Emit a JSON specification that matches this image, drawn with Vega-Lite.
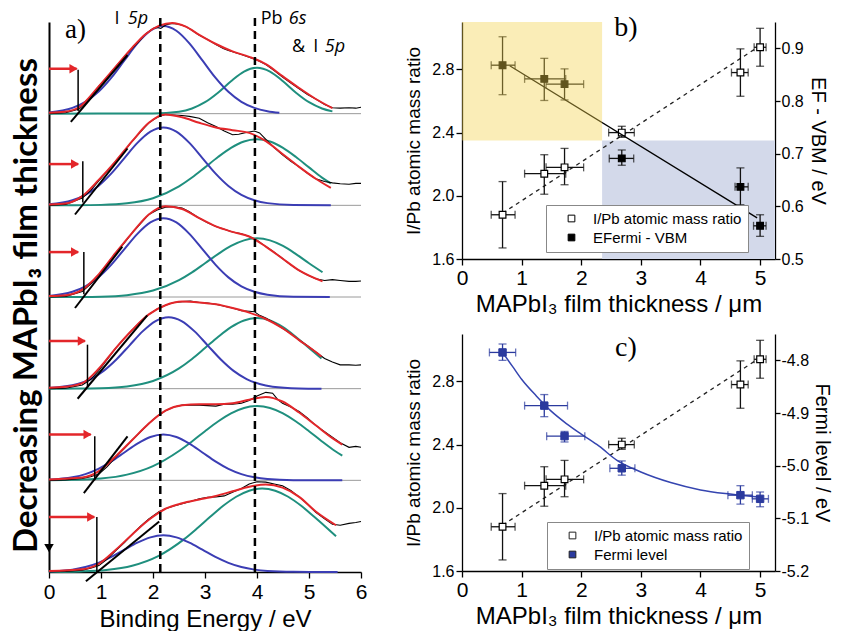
{
"$schema":"https://vega.github.io/schema/vega-lite/v6.json",
"background":"white",
"padding":{"left":9,"top":10,"right":0,"bottom":0},
"config":{"view":{"stroke":null},"axis":{"grid":false,"labelFlush":false,"labelBound":false,"labelColor":"black","titleColor":"black","domainColor":"black","tickColor":"black","labelFont":"Liberation Sans","titleFont":"Liberation Sans","titleFontWeight":"normal","domainWidth":1.3,"tickWidth":1.3,"tickSize":5}},
"datasets":{
"ratio":[
{"x":0.68,"xlo":0.49,"xhi":0.89,"y":1.88,"ylo":1.67,"yhi":2.09,"series":"I/Pb atomic mass ratio"},
{"x":1.38,"xlo":1.05,"xhi":1.74,"y":2.14,"ylo":2.01,"yhi":2.26,"series":"I/Pb atomic mass ratio"},
{"x":1.72,"xlo":1.41,"xhi":2.04,"y":2.18,"ylo":2.07,"yhi":2.30,"series":"I/Pb atomic mass ratio"},
{"x":2.68,"xlo":2.46,"xhi":2.89,"y":2.40,"ylo":2.37,"yhi":2.44,"series":"I/Pb atomic mass ratio"},
{"x":4.67,"xlo":4.52,"xhi":4.80,"y":2.78,"ylo":2.63,"yhi":2.93,"series":"I/Pb atomic mass ratio"},
{"x":5.00,"xlo":4.90,"xhi":5.10,"y":2.94,"ylo":2.82,"yhi":3.06,"series":"I/Pb atomic mass ratio"}],
"ef":[
{"x":0.68,"xlo":0.49,"xhi":0.89,"y":0.868,"ylo":0.812,"yhi":0.922,"series":"EFermi - VBM"},
{"x":1.38,"xlo":1.05,"xhi":1.74,"y":0.842,"ylo":0.801,"yhi":0.881,"series":"EFermi - VBM"},
{"x":1.72,"xlo":1.41,"xhi":2.04,"y":0.832,"ylo":0.802,"yhi":0.861,"series":"EFermi - VBM"},
{"x":2.68,"xlo":2.47,"xhi":2.88,"y":0.691,"ylo":0.678,"yhi":0.707,"series":"EFermi - VBM"},
{"x":4.67,"xlo":4.58,"xhi":4.80,"y":0.637,"ylo":0.603,"yhi":0.673,"series":"EFermi - VBM"},
{"x":5.00,"xlo":4.89,"xhi":5.10,"y":0.563,"ylo":0.543,"yhi":0.584,"series":"EFermi - VBM"}],
"fermi":[
{"x":0.68,"xlo":0.46,"xhi":0.90,"y":-4.785,"ylo":-4.800,"yhi":-4.769,"series":"Fermi level"},
{"x":1.38,"xlo":1.05,"xhi":1.77,"y":-4.886,"ylo":-4.907,"yhi":-4.865,"series":"Fermi level"},
{"x":1.72,"xlo":1.42,"xhi":2.06,"y":-4.944,"ylo":-4.955,"yhi":-4.935,"series":"Fermi level"},
{"x":2.68,"xlo":2.48,"xhi":2.90,"y":-5.005,"ylo":-5.018,"yhi":-4.991,"series":"Fermi level"},
{"x":4.67,"xlo":4.46,"xhi":4.87,"y":-5.056,"ylo":-5.073,"yhi":-5.038,"series":"Fermi level"},
{"x":5.00,"xlo":4.87,"xhi":5.14,"y":-5.063,"ylo":-5.078,"yhi":-5.050,"series":"Fermi level"}],
"d":[
{"s":1,"E":0,"I":5.0},{"s":1,"E":0.32,"I":5.01},{"s":1,"E":0.58,"I":5.05},{"s":1,"E":0.75,"I":5.14},{"s":1,"E":0.96,"I":5.30},{"s":1,"E":1.12,"I":5.40},{"s":1,"E":1.28,"I":5.51},{"s":1,"E":1.45,"I":5.62},{"s":1,"E":1.6,"I":5.71},{"s":1,"E":1.75,"I":5.80},{"s":1,"E":1.86,"I":5.87},{"s":1,"E":2.0,"I":5.93},{"s":1,"E":2.08,"I":5.94},{"s":1,"E":2.15,"I":5.93},{"s":1,"E":2.25,"I":5.97},{"s":1,"E":2.37,"I":5.985},{"s":1,"E":2.5,"I":5.975},{"s":1,"E":2.63,"I":5.95},{"s":1,"E":2.75,"I":5.91},{"s":1,"E":2.89,"I":5.855},{"s":1,"E":3.05,"I":5.81},{"s":1,"E":3.21,"I":5.755},{"s":1,"E":3.35,"I":5.71},{"s":1,"E":3.45,"I":5.69},{"s":1,"E":3.53,"I":5.675},{"s":1,"E":3.7,"I":5.645},{"s":1,"E":3.85,"I":5.615},{"s":1,"E":4.0,"I":5.585},{"s":1,"E":4.17,"I":5.535},{"s":1,"E":4.33,"I":5.47},{"s":1,"E":4.49,"I":5.40},{"s":1,"E":4.65,"I":5.335},{"s":1,"E":4.81,"I":5.27},{"s":1,"E":4.97,"I":5.21},{"s":1,"E":5.13,"I":5.16},{"s":1,"E":5.3,"I":5.10},{"s":1,"E":5.45,"I":5.065},{"s":1,"E":5.6,"I":5.06},{"s":1,"E":5.77,"I":5.065},{"s":1,"E":5.9,"I":5.06},{"s":1,"E":6.0,"I":5.07},
{"s":2,"E":0,"I":4.0},{"s":2,"E":0.32,"I":4.01},{"s":2,"E":0.64,"I":4.08},{"s":2,"E":0.8,"I":4.16},{"s":2,"E":0.96,"I":4.27},{"s":2,"E":1.12,"I":4.37},{"s":2,"E":1.28,"I":4.48},{"s":2,"E":1.45,"I":4.59},{"s":2,"E":1.6,"I":4.70},{"s":2,"E":1.76,"I":4.80},{"s":2,"E":1.92,"I":4.90},{"s":2,"E":2.05,"I":4.95},{"s":2,"E":2.12,"I":4.97},{"s":2,"E":2.24,"I":4.99},{"s":2,"E":2.4,"I":4.985},{"s":2,"E":2.56,"I":4.98},{"s":2,"E":2.7,"I":4.97},{"s":2,"E":2.89,"I":4.95},{"s":2,"E":3.05,"I":4.90},{"s":2,"E":3.21,"I":4.86},{"s":2,"E":3.37,"I":4.81},{"s":2,"E":3.53,"I":4.77},{"s":2,"E":3.65,"I":4.775},{"s":2,"E":3.75,"I":4.79},{"s":2,"E":3.85,"I":4.80},{"s":2,"E":3.95,"I":4.81},{"s":2,"E":4.05,"I":4.79},{"s":2,"E":4.17,"I":4.72},{"s":2,"E":4.33,"I":4.63},{"s":2,"E":4.49,"I":4.55},{"s":2,"E":4.65,"I":4.48},{"s":2,"E":4.81,"I":4.42},{"s":2,"E":4.97,"I":4.35},{"s":2,"E":5.13,"I":4.29},{"s":2,"E":5.3,"I":4.26},{"s":2,"E":5.45,"I":4.245},{"s":2,"E":5.6,"I":4.235},{"s":2,"E":5.77,"I":4.23},{"s":2,"E":5.9,"I":4.24},{"s":2,"E":6.0,"I":4.24},
{"s":3,"E":0,"I":3.0},{"s":3,"E":0.32,"I":3.005},{"s":3,"E":0.64,"I":3.06},{"s":3,"E":0.8,"I":3.14},{"s":3,"E":0.96,"I":3.24},{"s":3,"E":1.12,"I":3.36},{"s":3,"E":1.28,"I":3.48},{"s":3,"E":1.45,"I":3.59},{"s":3,"E":1.6,"I":3.70},{"s":3,"E":1.76,"I":3.80},{"s":3,"E":1.92,"I":3.90},{"s":3,"E":2.08,"I":3.95},{"s":3,"E":2.24,"I":3.98},{"s":3,"E":2.4,"I":3.985},{"s":3,"E":2.56,"I":3.97},{"s":3,"E":2.7,"I":3.93},{"s":3,"E":2.89,"I":3.86},{"s":3,"E":3.05,"I":3.81},{"s":3,"E":3.21,"I":3.77},{"s":3,"E":3.37,"I":3.74},{"s":3,"E":3.53,"I":3.71},{"s":3,"E":3.7,"I":3.69},{"s":3,"E":3.85,"I":3.66},{"s":3,"E":4.0,"I":3.62},{"s":3,"E":4.17,"I":3.55},{"s":3,"E":4.33,"I":3.49},{"s":3,"E":4.49,"I":3.42},{"s":3,"E":4.65,"I":3.35},{"s":3,"E":4.81,"I":3.29},{"s":3,"E":4.97,"I":3.24},{"s":3,"E":5.13,"I":3.20},{"s":3,"E":5.3,"I":3.18},{"s":3,"E":5.45,"I":3.19},{"s":3,"E":5.6,"I":3.18},{"s":3,"E":5.77,"I":3.17},{"s":3,"E":5.9,"I":3.17},{"s":3,"E":6.0,"I":3.175},
{"s":4,"E":0,"I":2.0},{"s":4,"E":0.32,"I":2.005},{"s":4,"E":0.64,"I":2.04},{"s":4,"E":0.8,"I":2.10},{"s":4,"E":0.96,"I":2.20},{"s":4,"E":1.12,"I":2.32},{"s":4,"E":1.28,"I":2.44},{"s":4,"E":1.45,"I":2.55},{"s":4,"E":1.6,"I":2.64},{"s":4,"E":1.76,"I":2.73},{"s":4,"E":1.92,"I":2.81},{"s":4,"E":2.08,"I":2.87},{"s":4,"E":2.24,"I":2.91},{"s":4,"E":2.4,"I":2.94},{"s":4,"E":2.56,"I":2.95},{"s":4,"E":2.72,"I":2.955},{"s":4,"E":2.89,"I":2.94},{"s":4,"E":3.05,"I":2.935},{"s":4,"E":3.21,"I":2.92},{"s":4,"E":3.37,"I":2.90},{"s":4,"E":3.53,"I":2.88},{"s":4,"E":3.7,"I":2.85},{"s":4,"E":3.85,"I":2.845},{"s":4,"E":3.95,"I":2.84},{"s":4,"E":4.05,"I":2.80},{"s":4,"E":4.17,"I":2.77},{"s":4,"E":4.33,"I":2.72},{"s":4,"E":4.49,"I":2.66},{"s":4,"E":4.65,"I":2.60},{"s":4,"E":4.81,"I":2.53},{"s":4,"E":4.97,"I":2.47},{"s":4,"E":5.13,"I":2.40},{"s":4,"E":5.3,"I":2.33},{"s":4,"E":5.45,"I":2.29},{"s":4,"E":5.6,"I":2.26},{"s":4,"E":5.77,"I":2.26},{"s":4,"E":5.9,"I":2.255},{"s":4,"E":6.0,"I":2.26},
{"s":5,"E":0,"I":1.0},{"s":5,"E":0.32,"I":1.005},{"s":5,"E":0.64,"I":1.02},{"s":5,"E":0.8,"I":1.04},{"s":5,"E":0.96,"I":1.07},{"s":5,"E":1.12,"I":1.15},{"s":5,"E":1.28,"I":1.25},{"s":5,"E":1.45,"I":1.35},{"s":5,"E":1.6,"I":1.44},{"s":5,"E":1.76,"I":1.53},{"s":5,"E":1.92,"I":1.62},{"s":5,"E":2.08,"I":1.70},{"s":5,"E":2.24,"I":1.76},{"s":5,"E":2.4,"I":1.80},{"s":5,"E":2.56,"I":1.82},{"s":5,"E":2.72,"I":1.82},{"s":5,"E":2.89,"I":1.82},{"s":5,"E":3.05,"I":1.815},{"s":5,"E":3.21,"I":1.81},{"s":5,"E":3.37,"I":1.83},{"s":5,"E":3.53,"I":1.83},{"s":5,"E":3.7,"I":1.84},{"s":5,"E":3.85,"I":1.87},{"s":5,"E":4.0,"I":1.92},{"s":5,"E":4.17,"I":1.96},{"s":5,"E":4.3,"I":1.95},{"s":5,"E":4.4,"I":1.88},{"s":5,"E":4.49,"I":1.84},{"s":5,"E":4.65,"I":1.80},{"s":5,"E":4.81,"I":1.75},{"s":5,"E":4.97,"I":1.68},{"s":5,"E":5.13,"I":1.60},{"s":5,"E":5.3,"I":1.53},{"s":5,"E":5.45,"I":1.47},{"s":5,"E":5.6,"I":1.41},{"s":5,"E":5.77,"I":1.36},{"s":5,"E":5.9,"I":1.37},{"s":5,"E":6.0,"I":1.36},
{"s":6,"E":0,"I":0.0},{"s":6,"E":0.32,"I":0.005},{"s":6,"E":0.64,"I":0.02},{"s":6,"E":0.8,"I":0.04},{"s":6,"E":0.96,"I":0.07},{"s":6,"E":1.12,"I":0.14},{"s":6,"E":1.28,"I":0.23},{"s":6,"E":1.45,"I":0.32},{"s":6,"E":1.6,"I":0.41},{"s":6,"E":1.76,"I":0.50},{"s":6,"E":1.92,"I":0.58},{"s":6,"E":2.12,"I":0.66},{"s":6,"E":2.24,"I":0.69},{"s":6,"E":2.4,"I":0.72},{"s":6,"E":2.56,"I":0.745},{"s":6,"E":2.72,"I":0.77},{"s":6,"E":2.89,"I":0.80},{"s":6,"E":3.05,"I":0.815},{"s":6,"E":3.21,"I":0.82},{"s":6,"E":3.37,"I":0.83},{"s":6,"E":3.53,"I":0.87},{"s":6,"E":3.7,"I":0.91},{"s":6,"E":3.85,"I":0.96},{"s":6,"E":4.0,"I":0.985},{"s":6,"E":4.17,"I":0.98},{"s":6,"E":4.33,"I":0.96},{"s":6,"E":4.49,"I":0.94},{"s":6,"E":4.65,"I":0.89},{"s":6,"E":4.81,"I":0.82},{"s":6,"E":4.97,"I":0.74},{"s":6,"E":5.13,"I":0.65},{"s":6,"E":5.3,"I":0.58},{"s":6,"E":5.45,"I":0.52},{"s":6,"E":5.6,"I":0.51},{"s":6,"E":5.77,"I":0.53},{"s":6,"E":5.9,"I":0.54},{"s":6,"E":6.0,"I":0.55}],
"f":[
{"s":1,"E":0,"I":5.01},{"s":1,"E":0.3,"I":5.02},{"s":1,"E":0.58,"I":5.07},{"s":1,"E":0.96,"I":5.30},{"s":1,"E":1.28,"I":5.51},{"s":1,"E":1.6,"I":5.72},{"s":1,"E":1.86,"I":5.87},{"s":1,"E":2.12,"I":5.96},{"s":1,"E":2.37,"I":5.99},{"s":1,"E":2.63,"I":5.95},{"s":1,"E":2.89,"I":5.86},{"s":1,"E":3.21,"I":5.76},{"s":1,"E":3.53,"I":5.68},{"s":1,"E":3.85,"I":5.62},{"s":1,"E":4.17,"I":5.54},{"s":1,"E":4.49,"I":5.41},{"s":1,"E":4.81,"I":5.28},{"s":1,"E":5.13,"I":5.16},{"s":1,"E":5.45,"I":5.06},
{"s":2,"E":0,"I":4.01},{"s":2,"E":0.32,"I":4.02},{"s":2,"E":0.64,"I":4.10},{"s":2,"E":0.96,"I":4.28},{"s":2,"E":1.28,"I":4.48},{"s":2,"E":1.6,"I":4.70},{"s":2,"E":1.92,"I":4.90},{"s":2,"E":2.24,"I":4.99},{"s":2,"E":2.56,"I":4.96},{"s":2,"E":2.89,"I":4.90},{"s":2,"E":3.21,"I":4.85},{"s":2,"E":3.53,"I":4.82},{"s":2,"E":3.85,"I":4.79},{"s":2,"E":4.17,"I":4.70},{"s":2,"E":4.49,"I":4.56},{"s":2,"E":4.81,"I":4.42},{"s":2,"E":5.13,"I":4.29},{"s":2,"E":5.42,"I":4.19},
{"s":3,"E":0,"I":3.01},{"s":3,"E":0.32,"I":3.02},{"s":3,"E":0.64,"I":3.08},{"s":3,"E":0.96,"I":3.25},{"s":3,"E":1.28,"I":3.48},{"s":3,"E":1.6,"I":3.70},{"s":3,"E":1.92,"I":3.90},{"s":3,"E":2.24,"I":3.99},{"s":3,"E":2.56,"I":3.96},{"s":3,"E":2.89,"I":3.86},{"s":3,"E":3.21,"I":3.77},{"s":3,"E":3.53,"I":3.71},{"s":3,"E":3.85,"I":3.66},{"s":3,"E":4.17,"I":3.55},{"s":3,"E":4.49,"I":3.42},{"s":3,"E":4.81,"I":3.29},{"s":3,"E":5.26,"I":3.17},
{"s":4,"E":0,"I":2.01},{"s":4,"E":0.32,"I":2.02},{"s":4,"E":0.64,"I":2.06},{"s":4,"E":0.96,"I":2.22},{"s":4,"E":1.28,"I":2.44},{"s":4,"E":1.6,"I":2.64},{"s":4,"E":1.92,"I":2.81},{"s":4,"E":2.24,"I":2.91},{"s":4,"E":2.56,"I":2.95},{"s":4,"E":2.89,"I":2.94},{"s":4,"E":3.21,"I":2.92},{"s":4,"E":3.53,"I":2.88},{"s":4,"E":3.85,"I":2.83},{"s":4,"E":4.17,"I":2.76},{"s":4,"E":4.49,"I":2.66},{"s":4,"E":4.81,"I":2.53},{"s":4,"E":5.13,"I":2.40},{"s":4,"E":5.24,"I":2.35},
{"s":5,"E":0,"I":1.01},{"s":5,"E":0.64,"I":1.03},{"s":5,"E":0.96,"I":1.10},{"s":5,"E":1.28,"I":1.26},{"s":5,"E":1.6,"I":1.44},{"s":5,"E":1.92,"I":1.62},{"s":5,"E":2.24,"I":1.76},{"s":5,"E":2.56,"I":1.82},{"s":5,"E":2.89,"I":1.83},{"s":5,"E":3.21,"I":1.83},{"s":5,"E":3.53,"I":1.84},{"s":5,"E":3.85,"I":1.88},{"s":5,"E":4.17,"I":1.91},{"s":5,"E":4.49,"I":1.86},{"s":5,"E":4.81,"I":1.74},{"s":5,"E":5.13,"I":1.60},{"s":5,"E":5.45,"I":1.46},{"s":5,"E":5.64,"I":1.39},
{"s":6,"E":0,"I":0.01},{"s":6,"E":0.64,"I":0.03},{"s":6,"E":0.96,"I":0.09},{"s":6,"E":1.28,"I":0.24},{"s":6,"E":1.6,"I":0.41},{"s":6,"E":1.92,"I":0.57},{"s":6,"E":2.24,"I":0.69},{"s":6,"E":2.56,"I":0.75},{"s":6,"E":2.89,"I":0.79},{"s":6,"E":3.21,"I":0.83},{"s":6,"E":3.53,"I":0.88},{"s":6,"E":3.85,"I":0.93},{"s":6,"E":4.17,"I":0.955},{"s":6,"E":4.49,"I":0.92},{"s":6,"E":4.81,"I":0.82},{"s":6,"E":5.13,"I":0.66},{"s":6,"E":5.52,"I":0.51}],
"b":[
{"s":1,"E":0,"I":5.013},{"s":1,"E":0.45,"I":5.063},{"s":1,"E":0.7,"I":5.129},{"s":1,"E":0.95,"I":5.238},{"s":1,"E":1.2,"I":5.393},{"s":1,"E":1.45,"I":5.581},{"s":1,"E":1.7,"I":5.767},{"s":1,"E":1.95,"I":5.905},{"s":1,"E":2.2,"I":5.957},{"s":1,"E":2.45,"I":5.905},{"s":1,"E":2.7,"I":5.767},{"s":1,"E":2.95,"I":5.581},{"s":1,"E":3.2,"I":5.393},{"s":1,"E":3.45,"I":5.238},{"s":1,"E":3.7,"I":5.129},{"s":1,"E":3.95,"I":5.063},{"s":1,"E":4.2,"I":5.027},{"s":1,"E":4.43,"I":5.01},
{"s":2,"E":0,"I":4.011},{"s":2,"E":0.45,"I":4.056},{"s":2,"E":0.7,"I":4.115},{"s":2,"E":0.95,"I":4.212},{"s":2,"E":1.2,"I":4.349},{"s":2,"E":1.45,"I":4.516},{"s":2,"E":1.7,"I":4.681},{"s":2,"E":1.95,"I":4.804},{"s":2,"E":2.2,"I":4.85},{"s":2,"E":2.45,"I":4.804},{"s":2,"E":2.7,"I":4.681},{"s":2,"E":2.95,"I":4.516},{"s":2,"E":3.2,"I":4.349},{"s":2,"E":3.45,"I":4.212},{"s":2,"E":3.7,"I":4.115},{"s":2,"E":3.95,"I":4.056},{"s":2,"E":4.2,"I":4.024},{"s":2,"E":4.7,"I":4.003},{"s":2,"E":5.42,"I":4.0},
{"s":3,"E":0,"I":3.012},{"s":3,"E":0.45,"I":3.057},{"s":3,"E":0.7,"I":3.116},{"s":3,"E":0.95,"I":3.214},{"s":3,"E":1.2,"I":3.353},{"s":3,"E":1.45,"I":3.522},{"s":3,"E":1.7,"I":3.689},{"s":3,"E":1.95,"I":3.814},{"s":3,"E":2.2,"I":3.86},{"s":3,"E":2.45,"I":3.814},{"s":3,"E":2.7,"I":3.689},{"s":3,"E":2.95,"I":3.522},{"s":3,"E":3.2,"I":3.353},{"s":3,"E":3.45,"I":3.214},{"s":3,"E":3.7,"I":3.116},{"s":3,"E":3.95,"I":3.057},{"s":3,"E":4.2,"I":3.025},{"s":3,"E":4.7,"I":3.003},{"s":3,"E":5.4,"I":3.0},
{"s":4,"E":0,"I":2.007},{"s":4,"E":0.55,"I":2.051},{"s":4,"E":0.8,"I":2.105},{"s":4,"E":1.05,"I":2.194},{"s":4,"E":1.3,"I":2.321},{"s":4,"E":1.55,"I":2.473},{"s":4,"E":1.8,"I":2.625},{"s":4,"E":2.05,"I":2.738},{"s":4,"E":2.3,"I":2.78},{"s":4,"E":2.55,"I":2.738},{"s":4,"E":2.8,"I":2.625},{"s":4,"E":3.05,"I":2.473},{"s":4,"E":3.3,"I":2.321},{"s":4,"E":3.55,"I":2.194},{"s":4,"E":3.8,"I":2.105},{"s":4,"E":4.05,"I":2.051},{"s":4,"E":4.3,"I":2.022},{"s":4,"E":4.8,"I":2.003},{"s":4,"E":5.24,"I":2.0},
{"s":5,"E":0,"I":1.007},{"s":5,"E":0.45,"I":1.033},{"s":5,"E":0.7,"I":1.068},{"s":5,"E":0.95,"I":1.125},{"s":5,"E":1.2,"I":1.206},{"s":5,"E":1.45,"I":1.304},{"s":5,"E":1.7,"I":1.401},{"s":5,"E":1.95,"I":1.473},{"s":5,"E":2.2,"I":1.5},{"s":5,"E":2.45,"I":1.473},{"s":5,"E":2.7,"I":1.401},{"s":5,"E":2.95,"I":1.304},{"s":5,"E":3.2,"I":1.206},{"s":5,"E":3.45,"I":1.125},{"s":5,"E":3.7,"I":1.068},{"s":5,"E":3.95,"I":1.033},{"s":5,"E":4.2,"I":1.014},{"s":5,"E":4.7,"I":1.002},{"s":5,"E":5.64,"I":1.0},
{"s":6,"E":0,"I":0.005},{"s":6,"E":0.45,"I":0.026},{"s":6,"E":0.7,"I":0.054},{"s":6,"E":0.95,"I":0.1},{"s":6,"E":1.2,"I":0.164},{"s":6,"E":1.45,"I":0.243},{"s":6,"E":1.7,"I":0.32},{"s":6,"E":1.95,"I":0.378},{"s":6,"E":2.2,"I":0.4},{"s":6,"E":2.45,"I":0.378},{"s":6,"E":2.7,"I":0.32},{"s":6,"E":2.95,"I":0.243},{"s":6,"E":3.2,"I":0.164},{"s":6,"E":3.45,"I":0.1},{"s":6,"E":3.7,"I":0.054},{"s":6,"E":3.95,"I":0.026},{"s":6,"E":4.2,"I":0.011},{"s":6,"E":4.7,"I":0.002},{"s":6,"E":5.55,"I":0.0}],
"t":[
{"s":1,"E":0,"I":5.0},{"s":1,"E":2.0,"I":5.002},{"s":1,"E":2.5,"I":5.022},{"s":1,"E":2.75,"I":5.057},{"s":1,"E":3.0,"I":5.125},{"s":1,"E":3.25,"I":5.229},{"s":1,"E":3.5,"I":5.354},{"s":1,"E":3.75,"I":5.459},{"s":1,"E":4.0,"I":5.5},{"s":1,"E":4.25,"I":5.459},{"s":1,"E":4.5,"I":5.354},{"s":1,"E":4.75,"I":5.229},{"s":1,"E":5.0,"I":5.125},{"s":1,"E":5.25,"I":5.057},{"s":1,"E":5.45,"I":5.025},
{"s":2,"E":0,"I":4.0},{"s":2,"E":0.5,"I":4.001},{"s":2,"E":1.0,"I":4.005},{"s":2,"E":1.5,"I":4.022},{"s":2,"E":2.0,"I":4.078},{"s":2,"E":2.5,"I":4.207},{"s":2,"E":2.75,"I":4.303},{"s":2,"E":3.0,"I":4.414},{"s":2,"E":3.25,"I":4.527},{"s":2,"E":3.5,"I":4.627},{"s":2,"E":3.75,"I":4.696},{"s":2,"E":4.0,"I":4.72},{"s":2,"E":4.25,"I":4.696},{"s":2,"E":4.5,"I":4.627},{"s":2,"E":4.75,"I":4.527},{"s":2,"E":5.0,"I":4.414},{"s":2,"E":5.25,"I":4.303},{"s":2,"E":5.42,"I":4.24},
{"s":3,"E":0,"I":3.0},{"s":3,"E":0.5,"I":3.001},{"s":3,"E":1.0,"I":3.004},{"s":3,"E":1.5,"I":3.02},{"s":3,"E":2.0,"I":3.07},{"s":3,"E":2.5,"I":3.184},{"s":3,"E":2.75,"I":3.269},{"s":3,"E":3.0,"I":3.368},{"s":3,"E":3.25,"I":3.468},{"s":3,"E":3.5,"I":3.557},{"s":3,"E":3.75,"I":3.618},{"s":3,"E":4.0,"I":3.64},{"s":3,"E":4.25,"I":3.618},{"s":3,"E":4.5,"I":3.557},{"s":3,"E":4.75,"I":3.468},{"s":3,"E":5.0,"I":3.368},{"s":3,"E":5.26,"I":3.27},
{"s":4,"E":0,"I":2.0},{"s":4,"E":0.5,"I":2.001},{"s":4,"E":1.0,"I":2.005},{"s":4,"E":1.5,"I":2.024},{"s":4,"E":2.0,"I":2.084},{"s":4,"E":2.5,"I":2.221},{"s":4,"E":2.75,"I":2.324},{"s":4,"E":3.0,"I":2.443},{"s":4,"E":3.25,"I":2.564},{"s":4,"E":3.5,"I":2.671},{"s":4,"E":3.75,"I":2.744},{"s":4,"E":4.0,"I":2.77},{"s":4,"E":4.25,"I":2.744},{"s":4,"E":4.5,"I":2.671},{"s":4,"E":4.75,"I":2.564},{"s":4,"E":5.0,"I":2.443},{"s":4,"E":5.24,"I":2.33},
{"s":5,"E":0,"I":1.001},{"s":5,"E":0.5,"I":1.005},{"s":5,"E":1.0,"I":1.019},{"s":5,"E":1.5,"I":1.062},{"s":5,"E":2.0,"I":1.155},{"s":5,"E":2.5,"I":1.32},{"s":5,"E":2.75,"I":1.424},{"s":5,"E":3.0,"I":1.536},{"s":5,"E":3.25,"I":1.642},{"s":5,"E":3.5,"I":1.731},{"s":5,"E":3.75,"I":1.79},{"s":5,"E":4.0,"I":1.81},{"s":5,"E":4.25,"I":1.79},{"s":5,"E":4.5,"I":1.731},{"s":5,"E":4.75,"I":1.642},{"s":5,"E":5.0,"I":1.536},{"s":5,"E":5.25,"I":1.424},{"s":5,"E":5.5,"I":1.32},{"s":5,"E":5.64,"I":1.27},
{"s":6,"E":0,"I":0.0},{"s":6,"E":0.6,"I":0.006},{"s":6,"E":1.1,"I":0.022},{"s":6,"E":1.6,"I":0.069},{"s":6,"E":2.1,"I":0.174},{"s":6,"E":2.6,"I":0.359},{"s":6,"E":2.85,"I":0.477},{"s":6,"E":3.1,"I":0.602},{"s":6,"E":3.35,"I":0.722},{"s":6,"E":3.6,"I":0.821},{"s":6,"E":3.85,"I":0.887},{"s":6,"E":4.1,"I":0.91},{"s":6,"E":4.35,"I":0.887},{"s":6,"E":4.6,"I":0.821},{"s":6,"E":4.85,"I":0.722},{"s":6,"E":5.1,"I":0.602},{"s":6,"E":5.35,"I":0.477},{"s":6,"E":5.52,"I":0.39}],
"ex":[
{"s":1,"E":0.42,"I":4.91},{"s":1,"E":1.51,"I":5.64},
{"s":2,"E":0.50,"I":3.90},{"s":2,"E":1.51,"I":4.62},
{"s":3,"E":0.50,"I":2.88},{"s":3,"E":1.41,"I":3.55},
{"s":4,"E":0.55,"I":1.89},{"s":4,"E":1.89,"I":2.80},
{"s":5,"E":0.67,"I":0.86},{"s":5,"E":1.51,"I":1.48},
{"s":6,"E":0.71,"I":-0.1},{"s":6,"E":2.12,"I":0.55}],
"mk":[
{"E":0.56,"I":5.03,"I2":5.48},{"E":0.65,"I":4.03,"I2":4.48},{"E":0.67,"I":3.03,"I2":3.49},{"E":0.74,"I":2.02,"I2":2.48},{"E":0.88,"I":1.0,"I2":1.48},{"E":0.92,"I":0.0,"I2":0.60}],
"ar":[
{"E":0,"E2":0.53,"I":5.49},{"E":0,"E2":0.56,"I":4.45},{"E":0,"E2":0.56,"I":3.49},{"E":0,"E2":0.69,"I":2.52},{"E":0,"E2":0.80,"I":1.50},{"E":0,"E2":0.87,"I":0.60}]
},
"bounds":"flush",
"spacing":101,
"resolve":{"scale":{"fill":"independent","color":"independent"},"legend":{"fill":"independent","color":"independent"}},
"hconcat":[
{"width":312,"height":550,
"layer":[
{"data":{"values":[{"I":1},{"I":2},{"I":3},{"I":4},{"I":5}]},"mark":{"type":"rule","color":"#9a9a9a","strokeWidth":1},
 "encoding":{"y":{"field":"I","type":"quantitative","scale":{"domain":[0,6],"nice":false,"zero":false},
  "axis":{"domain":true,"domainWidth":2,"ticks":false,"labels":false,"title":"Decreasing MAPbI₃ film thickness","titleFont":"Lato","titleFontWeight":"bold","titleFontSize":33,"titlePadding":6,"titleY":283}}}},
{"data":{"name":"t"},"mark":{"type":"line","color":"#1f8f7e","strokeWidth":2,"interpolate":"monotone"},
 "encoding":{"x":{"field":"E","type":"quantitative","scale":{"domain":[0,6],"nice":false,"zero":false},
  "axis":{"values":[0,0.5,1,1.5,2,2.5,3,3.5,4,4.5,5,5.5,6],"labelOverlap":{"expr":"false"},"labelExpr":"abs(datum.value - round(datum.value)) < 0.001 ? format(datum.value, 'd') : ''","tickSize":{"condition":{"test":"abs(datum.value - round(datum.value)) < 0.001","value":6},"value":3},"title":"Binding Energy / eV","titleFontSize":24,"labelFontSize":21,"domainWidth":1.5,"labelPadding":3,"titlePadding":5}},
  "y":{"field":"I","type":"quantitative"},"detail":{"field":"s"}}},
{"data":{"name":"b"},"mark":{"type":"line","color":"#3b3db4","strokeWidth":2,"interpolate":"monotone"},
 "encoding":{"x":{"field":"E","type":"quantitative"},"y":{"field":"I","type":"quantitative"},"detail":{"field":"s"}}},
{"data":{"name":"d"},"mark":{"type":"line","color":"black","strokeWidth":1.1},
 "encoding":{"x":{"field":"E","type":"quantitative"},"y":{"field":"I","type":"quantitative"},"detail":{"field":"s"}}},
{"data":{"name":"f"},"mark":{"type":"line","color":"#e3262a","strokeWidth":2,"interpolate":"monotone"},
 "encoding":{"x":{"field":"E","type":"quantitative"},"y":{"field":"I","type":"quantitative"},"detail":{"field":"s"}}},
{"data":{"name":"ex"},"mark":{"type":"line","color":"black","strokeWidth":2},
 "encoding":{"x":{"field":"E","type":"quantitative"},"y":{"field":"I","type":"quantitative"},"detail":{"field":"s"}}},
{"data":{"name":"mk"},"mark":{"type":"rule","color":"black","strokeWidth":1.5},
 "encoding":{"x":{"field":"E","type":"quantitative"},"y":{"field":"I","type":"quantitative"},"y2":{"field":"I2"}}},
{"data":{"values":[{"E":2.14,"I":0,"I2":6.06},{"E":3.96,"I":0,"I2":6.06}]},"mark":{"type":"rule","color":"black","strokeWidth":2.5,"strokeDash":[8,5]},
 "encoding":{"x":{"field":"E","type":"quantitative"},"y":{"field":"I","type":"quantitative"},"y2":{"field":"I2"}}},
{"data":{"name":"ar"},"mark":{"type":"rule","color":"#e3262a","strokeWidth":2.5},
 "encoding":{"x":{"field":"E","type":"quantitative"},"x2":{"field":"E2"},"y":{"field":"I","type":"quantitative"}}},
{"data":{"name":"ar"},"mark":{"type":"point","shape":"triangle-right","filled":true,"color":"#e3262a","size":90,"opacity":1,"xOffset":-3},
 "encoding":{"x":{"field":"E2","type":"quantitative"},"y":{"field":"I","type":"quantitative"}}},
{"data":{"values":[{"E":0,"I":0.26}]},"mark":{"type":"point","shape":"triangle-down","filled":true,"color":"black","size":90,"opacity":1},
 "encoding":{"x":{"field":"E","type":"quantitative"},"y":{"field":"I","type":"quantitative"}}},
{"data":{"values":[{"E":0.51,"I":5.91,"t":"a)"}]},"mark":{"type":"text","font":"Liberation Serif","fontSize":27,"color":"black","align":"center","baseline":"middle"},
 "encoding":{"x":{"field":"E","type":"quantitative"},"y":{"field":"I","type":"quantitative"},"text":{"field":"t"}}},
{"data":{"values":[{"E":1.31,"I":6.03,"t":"I"},{"E":4.28,"I":6.03,"t":"Pb"},{"E":4.80,"I":5.73,"t":"&"},{"E":5.13,"I":5.73,"t":"I"}]},"mark":{"type":"text","font":"Open Sans","fontSize":18,"color":"black","align":"center","baseline":"middle"},
 "encoding":{"x":{"field":"E","type":"quantitative"},"y":{"field":"I","type":"quantitative"},"text":{"field":"t"}}},
{"data":{"values":[{"E":1.71,"I":6.03,"t":"5p"},{"E":4.78,"I":6.03,"t":"6s"},{"E":5.50,"I":5.73,"t":"5p"}]},"mark":{"type":"text","font":"Open Sans","fontStyle":"italic","fontSize":18,"color":"black","align":"center","baseline":"middle"},
 "encoding":{"x":{"field":"E","type":"quantitative"},"y":{"field":"I","type":"quantitative"},"text":{"field":"t"}}}
]},
{"vconcat":[
{"width":313,"height":237,
 "resolve":{"scale":{"y":"independent"}},
 "layer":[
 {"layer":[
  {"data":{"values":[{"x":2.35,"x2":5.25,"y":1.6,"y2":2.35}]},"mark":{"type":"rect","color":"#d3d9ea"},
   "encoding":{"x":{"field":"x","type":"quantitative","scale":{"domain":[0,5.25],"nice":false,"zero":false},
     "axis":{"values":[0,0.5,1,1.5,2,2.5,3,3.5,4,4.5,5],"labelOverlap":{"expr":"false"},"labelExpr":"abs(datum.value - round(datum.value)) < 0.001 ? format(datum.value, 'd') : ''","tickSize":{"condition":{"test":"abs(datum.value - round(datum.value)) < 0.001","value":6},"value":3},"title":"MAPbI₃ film thickness / μm","titleFontSize":24,"labelFontSize":21,"labelPadding":2,"titlePadding":4}},
    "x2":{"field":"x2"},
    "y":{"field":"y","type":"quantitative","scale":{"domain":[1.6,3.1],"nice":false,"zero":false},
     "axis":{"orient":"left","values":[1.6,1.7,1.8,1.9,2.0,2.1,2.2,2.3,2.4,2.5,2.6,2.7,2.8,2.9,3.0],"labelOverlap":{"expr":"false"},"labelExpr":"abs(datum.value*5 - round(datum.value*5)) < 0.001 ? format(datum.value, '.1f') : ''","tickSize":{"condition":{"test":"abs(datum.value*5 - round(datum.value*5)) < 0.001","value":6},"value":3},"title":"I/Pb atomic mass ratio","titleFontSize":19,"labelFontSize":16,"labelPadding":2,"titlePadding":8}},
    "y2":{"field":"y2"}}},
  {"data":{"values":[{"x":0.68,"y":1.89},{"x":5.0,"y":2.95}]},"mark":{"type":"line","color":"#222","strokeWidth":1.3,"strokeDash":[4,4]},
   "encoding":{"x":{"field":"x","type":"quantitative"},"y":{"field":"y","type":"quantitative"}}},
  {"data":{"name":"ratio"},"mark":{"type":"rule","color":"#111","strokeWidth":1.3},"encoding":{"x":{"field":"x","type":"quantitative"},"y":{"field":"ylo","type":"quantitative"},"y2":{"field":"yhi"}}},
  {"data":{"name":"ratio"},"mark":{"type":"rule","color":"#111","strokeWidth":1.3},"encoding":{"x":{"field":"xlo","type":"quantitative"},"x2":{"field":"xhi"},"y":{"field":"y","type":"quantitative"}}},
  {"data":{"name":"ratio"},"mark":{"type":"tick","orient":"horizontal","size":8,"thickness":1.3,"color":"#111"},"encoding":{"x":{"field":"x","type":"quantitative"},"y":{"field":"ylo","type":"quantitative"}}},
  {"data":{"name":"ratio"},"mark":{"type":"tick","orient":"horizontal","size":8,"thickness":1.3,"color":"#111"},"encoding":{"x":{"field":"x","type":"quantitative"},"y":{"field":"yhi","type":"quantitative"}}},
  {"data":{"name":"ratio"},"mark":{"type":"tick","orient":"vertical","size":8,"thickness":1.3,"color":"#111"},"encoding":{"x":{"field":"xlo","type":"quantitative"},"y":{"field":"y","type":"quantitative"}}},
  {"data":{"name":"ratio"},"mark":{"type":"tick","orient":"vertical","size":8,"thickness":1.3,"color":"#111"},"encoding":{"x":{"field":"xhi","type":"quantitative"},"y":{"field":"y","type":"quantitative"}}},
  {"data":{"name":"ratio"},"mark":{"type":"point","shape":"square","filled":true,"size":45,"stroke":"black","strokeWidth":1.2,"opacity":1},
   "encoding":{"x":{"field":"x","type":"quantitative"},"y":{"field":"y","type":"quantitative"},
    "fill":{"field":"series","type":"nominal","scale":{"domain":["I/Pb atomic mass ratio","EFermi - VBM"],"range":["white","black"]},
     "legend":{"orient":"none","legendX":84,"legendY":183,"title":null,"strokeColor":"#888","fillColor":"white","padding":6,"labelFont":"Liberation Sans","labelFontSize":15,"labelColor":"black","symbolType":"square","symbolSize":45,"symbolStrokeColor":"black","symbolStrokeWidth":1,"symbolOffset":12,"labelOffset":14,"rowPadding":3}}}},
  {"data":{"values":[{"x":2.75,"y":3.06,"t":"b)"}]},"mark":{"type":"text","font":"Liberation Serif","fontSize":28,"color":"black","align":"center","baseline":"middle"},
   "encoding":{"x":{"field":"x","type":"quantitative"},"y":{"field":"y","type":"quantitative"},"text":{"field":"t"}}}
 ]},
 {"layer":[
  {"data":{"values":[{"x":0.80,"y":0.867},{"x":4.95,"y":0.578}]},"mark":{"type":"line","color":"black","strokeWidth":1.3},
   "encoding":{"x":{"field":"x","type":"quantitative"},"y":{"field":"y","type":"quantitative","scale":{"domain":[0.5,0.95],"nice":false,"zero":false},
     "axis":{"orient":"right","values":[0.5,0.55,0.6,0.65,0.7,0.75,0.8,0.85,0.9],"labelOverlap":{"expr":"false"},"labelExpr":"abs(datum.value*10 - round(datum.value*10)) < 0.001 ? format(datum.value, '.1f') : ''","tickSize":{"condition":{"test":"abs(datum.value*10 - round(datum.value*10)) < 0.001","value":5},"value":3},"title":"EF - VBM / eV","titleFontSize":20,"labelFontSize":16,"labelPadding":1,"titlePadding":4}}}},
  {"data":{"name":"ef"},"mark":{"type":"rule","color":"#111","strokeWidth":1.3},"encoding":{"x":{"field":"x","type":"quantitative"},"y":{"field":"ylo","type":"quantitative"},"y2":{"field":"yhi"}}},
  {"data":{"name":"ef"},"mark":{"type":"rule","color":"#111","strokeWidth":1.3},"encoding":{"x":{"field":"xlo","type":"quantitative"},"x2":{"field":"xhi"},"y":{"field":"y","type":"quantitative"}}},
  {"data":{"name":"ef"},"mark":{"type":"tick","orient":"horizontal","size":8,"thickness":1.3,"color":"#111"},"encoding":{"x":{"field":"x","type":"quantitative"},"y":{"field":"ylo","type":"quantitative"}}},
  {"data":{"name":"ef"},"mark":{"type":"tick","orient":"horizontal","size":8,"thickness":1.3,"color":"#111"},"encoding":{"x":{"field":"x","type":"quantitative"},"y":{"field":"yhi","type":"quantitative"}}},
  {"data":{"name":"ef"},"mark":{"type":"tick","orient":"vertical","size":8,"thickness":1.3,"color":"#111"},"encoding":{"x":{"field":"xlo","type":"quantitative"},"y":{"field":"y","type":"quantitative"}}},
  {"data":{"name":"ef"},"mark":{"type":"tick","orient":"vertical","size":8,"thickness":1.3,"color":"#111"},"encoding":{"x":{"field":"xhi","type":"quantitative"},"y":{"field":"y","type":"quantitative"}}},
  {"data":{"name":"ef"},"mark":{"type":"point","shape":"square","filled":true,"size":45,"stroke":"black","strokeWidth":1.2,"opacity":1},
   "encoding":{"x":{"field":"x","type":"quantitative"},"y":{"field":"y","type":"quantitative"},"fill":{"field":"series","type":"nominal"}}},
  {"data":{"values":[{"x":0,"x2":2.35,"y":0.725,"y2":0.95}]},"mark":{"type":"rect","color":"#f2d24a","opacity":0.4},
   "encoding":{"x":{"field":"x","type":"quantitative"},"x2":{"field":"x2"},"y":{"field":"y","type":"quantitative"},"y2":{"field":"y2"}}}
 ]}
 ]},
{"width":313,"height":237,
 "resolve":{"scale":{"y":"independent"}},
 "layer":[
 {"layer":[
  {"data":{"values":[{"x":0.68,"y":1.89},{"x":5.0,"y":2.95}]},"mark":{"type":"line","color":"#222","strokeWidth":1.3,"strokeDash":[4,4]},
   "encoding":{"x":{"field":"x","type":"quantitative","scale":{"domain":[0,5.25],"nice":false,"zero":false},
     "axis":{"values":[0,0.5,1,1.5,2,2.5,3,3.5,4,4.5,5],"labelOverlap":{"expr":"false"},"labelExpr":"abs(datum.value - round(datum.value)) < 0.001 ? format(datum.value, 'd') : ''","tickSize":{"condition":{"test":"abs(datum.value - round(datum.value)) < 0.001","value":6},"value":3},"title":"MAPbI₃ film thickness / μm","titleFontSize":24,"labelFontSize":21,"labelPadding":2,"titlePadding":4}},
    "y":{"field":"y","type":"quantitative","scale":{"domain":[1.6,3.1],"nice":false,"zero":false},
     "axis":{"orient":"left","values":[1.6,1.7,1.8,1.9,2.0,2.1,2.2,2.3,2.4,2.5,2.6,2.7,2.8,2.9,3.0],"labelOverlap":{"expr":"false"},"labelExpr":"abs(datum.value*5 - round(datum.value*5)) < 0.001 ? format(datum.value, '.1f') : ''","tickSize":{"condition":{"test":"abs(datum.value*5 - round(datum.value*5)) < 0.001","value":6},"value":3},"title":"I/Pb atomic mass ratio","titleFontSize":19,"labelFontSize":16,"labelPadding":2,"titlePadding":8}}}},
  {"data":{"name":"ratio"},"mark":{"type":"rule","color":"#111","strokeWidth":1.3},"encoding":{"x":{"field":"x","type":"quantitative"},"y":{"field":"ylo","type":"quantitative"},"y2":{"field":"yhi"}}},
  {"data":{"name":"ratio"},"mark":{"type":"rule","color":"#111","strokeWidth":1.3},"encoding":{"x":{"field":"xlo","type":"quantitative"},"x2":{"field":"xhi"},"y":{"field":"y","type":"quantitative"}}},
  {"data":{"name":"ratio"},"mark":{"type":"tick","orient":"horizontal","size":8,"thickness":1.3,"color":"#111"},"encoding":{"x":{"field":"x","type":"quantitative"},"y":{"field":"ylo","type":"quantitative"}}},
  {"data":{"name":"ratio"},"mark":{"type":"tick","orient":"horizontal","size":8,"thickness":1.3,"color":"#111"},"encoding":{"x":{"field":"x","type":"quantitative"},"y":{"field":"yhi","type":"quantitative"}}},
  {"data":{"name":"ratio"},"mark":{"type":"tick","orient":"vertical","size":8,"thickness":1.3,"color":"#111"},"encoding":{"x":{"field":"xlo","type":"quantitative"},"y":{"field":"y","type":"quantitative"}}},
  {"data":{"name":"ratio"},"mark":{"type":"tick","orient":"vertical","size":8,"thickness":1.3,"color":"#111"},"encoding":{"x":{"field":"xhi","type":"quantitative"},"y":{"field":"y","type":"quantitative"}}},
  {"data":{"name":"ratio"},"mark":{"type":"point","shape":"square","filled":true,"size":45,"stroke":"black","strokeWidth":1.2,"opacity":1},
   "encoding":{"x":{"field":"x","type":"quantitative"},"y":{"field":"y","type":"quantitative"},
    "fill":{"field":"series","type":"nominal","scale":{"domain":["I/Pb atomic mass ratio","Fermi level"],"range":["white","#2b3a9e"]},
     "legend":{"orient":"none","legendX":85,"legendY":188,"title":null,"strokeColor":"#888","fillColor":"white","padding":6,"labelFont":"Liberation Sans","labelFontSize":15,"labelColor":"black","symbolType":"square","symbolSize":45,"symbolStrokeColor":"#222","symbolStrokeWidth":1,"symbolOffset":12,"labelOffset":14,"rowPadding":3}}}},
  {"data":{"values":[{"x":2.75,"y":3.01,"t":"c)"}]},"mark":{"type":"text","font":"Liberation Serif","fontSize":28,"color":"black","align":"center","baseline":"middle"},
   "encoding":{"x":{"field":"x","type":"quantitative"},"y":{"field":"y","type":"quantitative"},"text":{"field":"t"}}}
 ]},
 {"layer":[
  {"data":{"values":[{"x":0.68,"y":-4.785},{"x":0.85,"y":-4.812},{"x":1.0,"y":-4.836},{"x":1.25,"y":-4.868},{"x":1.5,"y":-4.897},{"x":1.75,"y":-4.92},{"x":2.0,"y":-4.94},{"x":2.3,"y":-4.963},{"x":2.6,"y":-4.99},{"x":3.0,"y":-5.012},{"x":3.5,"y":-5.032},{"x":4.0,"y":-5.046},{"x":4.5,"y":-5.054},{"x":5.0,"y":-5.06}]},
   "mark":{"type":"line","color":"#3545b0","strokeWidth":1.5,"interpolate":"monotone"},
   "encoding":{"x":{"field":"x","type":"quantitative"},"y":{"field":"y","type":"quantitative","scale":{"domain":[-5.2,-4.75],"nice":false,"zero":false},
     "axis":{"orient":"right","values":[-5.2,-5.15,-5.1,-5.05,-5.0,-4.95,-4.9,-4.85,-4.8],"labelOverlap":{"expr":"false"},"labelExpr":"abs(datum.value*10 - round(datum.value*10)) < 0.001 ? replace(format(datum.value, '.1f'), '−', '-') : ''","tickSize":{"condition":{"test":"abs(datum.value*10 - round(datum.value*10)) < 0.001","value":5},"value":3},"title":"Fermi level / eV","titleFontSize":20,"labelFontSize":16,"labelPadding":1,"titlePadding":3}}}},
  {"data":{"name":"fermi"},"mark":{"type":"rule","color":"#2b3a9e","strokeWidth":1.3},"encoding":{"x":{"field":"x","type":"quantitative"},"y":{"field":"ylo","type":"quantitative"},"y2":{"field":"yhi"}}},
  {"data":{"name":"fermi"},"mark":{"type":"rule","color":"#2b3a9e","strokeWidth":1.3},"encoding":{"x":{"field":"xlo","type":"quantitative"},"x2":{"field":"xhi"},"y":{"field":"y","type":"quantitative"}}},
  {"data":{"name":"fermi"},"mark":{"type":"tick","orient":"horizontal","size":8,"thickness":1.3,"color":"#2b3a9e"},"encoding":{"x":{"field":"x","type":"quantitative"},"y":{"field":"ylo","type":"quantitative"}}},
  {"data":{"name":"fermi"},"mark":{"type":"tick","orient":"horizontal","size":8,"thickness":1.3,"color":"#2b3a9e"},"encoding":{"x":{"field":"x","type":"quantitative"},"y":{"field":"yhi","type":"quantitative"}}},
  {"data":{"name":"fermi"},"mark":{"type":"tick","orient":"vertical","size":8,"thickness":1.3,"color":"#2b3a9e"},"encoding":{"x":{"field":"xlo","type":"quantitative"},"y":{"field":"y","type":"quantitative"}}},
  {"data":{"name":"fermi"},"mark":{"type":"tick","orient":"vertical","size":8,"thickness":1.3,"color":"#2b3a9e"},"encoding":{"x":{"field":"xhi","type":"quantitative"},"y":{"field":"y","type":"quantitative"}}},
  {"data":{"name":"fermi"},"mark":{"type":"point","shape":"square","filled":true,"size":55,"stroke":"#2b3a9e","strokeWidth":1,"opacity":1},
   "encoding":{"x":{"field":"x","type":"quantitative"},"y":{"field":"y","type":"quantitative"},"fill":{"field":"series","type":"nominal"}}}
 ]}
 ]}
],
"spacing":75,
"bounds":"flush",
"resolve":{"scale":{"fill":"independent"},"legend":{"fill":"independent"}}
}
]
}
